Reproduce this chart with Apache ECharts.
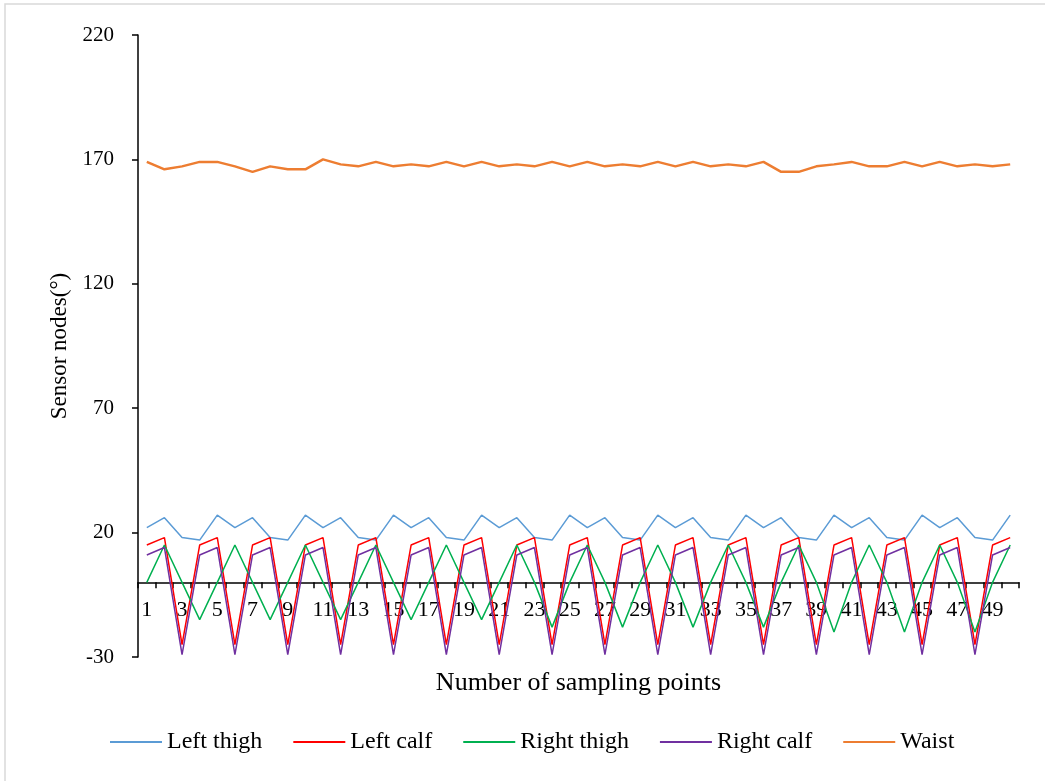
<!DOCTYPE html>
<html>
<head>
<meta charset="utf-8">
<script src="https://cdn.jsdelivr.net/npm/echarts@6/dist/echarts.min.js"></script>
<style>
  html, body { margin: 0; padding: 0; background: #fff; }
  #chart { width: 1045px; height: 781px; }
</style>
</head>
<body>
<div id="chart"></div>
<script>
// sampling points 1..50
var categories = [];
for (var i = 1; i <= 50; i++) categories.push(String(i));

var leftThigh = [22, 26, 18, 17, 27, 22, 26, 18, 17, 27,
                 22, 26, 18, 17, 27, 22, 26, 18, 17, 27,
                 22, 26, 18, 17, 27, 22, 26, 18, 17, 27,
                 22, 26, 18, 17, 27, 22, 26, 18, 17, 27,
                 22, 26, 18, 17, 27, 22, 26, 18, 17, 27];
var leftCalf = [15, 18, -25, 15, 18, -25, 15, 18, -25, 15,
                18, -25, 15, 18, -25, 15, 18, -25, 15, 18,
                -25, 15, 18, -25, 15, 18, -25, 15, 18, -25,
                15, 18, -25, 15, 18, -25, 15, 18, -25, 15,
                18, -25, 15, 18, -25, 15, 18, -25, 15, 18];
var rightThigh = [0, 15, 0, -15, 0, 15, 0, -15, 0, 15,
                  0, -15, 0, 15, 0, -15, 0, 15, 0, -15,
                  0, 15, 0, -18, 0, 15, 0, -18, 0, 15,
                  0, -18, 0, 15, 0, -18, 0, 15, 0, -20,
                  0, 15, 0, -20, 0, 15, 0, -20, 0, 15];
var rightCalf = [11, 14, -29, 11, 14, -29, 11, 14, -29, 11,
                 14, -29, 11, 14, -29, 11, 14, -29, 11, 14,
                 -29, 11, 14, -29, 11, 14, -29, 11, 14, -29,
                 11, 14, -29, 11, 14, -29, 11, 14, -29, 11,
                 14, -29, 11, 14, -29, 11, 14, -29, 11, 14];
var waist = [169, 166, 167.2, 169, 169, 167.2, 165, 167.2, 166, 166,
             170, 168, 167.2, 169, 167.2, 168, 167.2, 169, 167.2, 169,
             167.2, 168, 167.2, 169, 167.2, 169, 167.2, 168, 167.2, 169,
             167.2, 169, 167.2, 168, 167.2, 169, 165, 165, 167.2, 168,
             169, 167.2, 167.2, 169, 167.2, 169, 167.2, 168, 167.2, 168];

var seriesNames = ['Left thigh', 'Left calf', 'Right thigh', 'Right calf', 'Waist'];
var seriesData = [leftThigh, leftCalf, rightThigh, rightCalf, waist];
var seriesColors = ['#5B9BD5', '#FF0000', '#00B050', '#7030A0', '#ED7D31'];
var seriesWidths = [1.5, 1.5, 1.5, 1.5, 2.5];

var yMin = -30, yMax = 220, yStep = 50;
var font = 'Liberation Serif';

var gridTop = 35, gridBottom = 124;
var gridHeight = 781 - gridTop - gridBottom;
// lift the category axis from the grid bottom up to the value 0
var xAxisOffset = -(0 - yMin) / (yMax - yMin) * gridHeight;

var chart = echarts.init(document.getElementById('chart'));

var series = [];
for (var s = 0; s < seriesNames.length; s++) {
    series.push({
        name: seriesNames[s],
        type: 'line',
        data: seriesData[s],
        symbol: 'none',
        smooth: false,
        color: seriesColors[s],
        lineStyle: { color: seriesColors[s], width: seriesWidths[s] },
        animation: false
    });
}

chart.setOption({
    animation: false,
    textStyle: { fontFamily: font, color: '#000' },
    graphic: [{
        type: 'rect',
        shape: { x: 5, y: 4, width: 1200, height: 900 },
        style: { fill: 'none', stroke: '#D9D9D9', lineWidth: 1.5 },
        silent: true
    }],
    grid: { left: 138, right: 26, top: gridTop, bottom: gridBottom },
    legend: {
        bottom: 22,
        left: 105,
        icon: 'rect',
        itemWidth: 52,
        itemHeight: 2,
        itemGap: 31,
        textStyle: { fontFamily: font, fontSize: 24, color: '#000' },
        data: seriesNames
    },
    xAxis: {
        type: 'category',
        data: categories,
        boundaryGap: true,
        offset: xAxisOffset,
        name: 'Number of sampling points',
        nameLocation: 'middle',
        nameGap: 88,
        nameTextStyle: { fontFamily: font, fontSize: 26, color: '#000' },
        axisLine: { onZero: false, lineStyle: { color: '#000', width: 1.5 } },
        axisTick: { show: true, interval: 0, length: 6, lineStyle: { color: '#000', width: 1.5 } },
        axisLabel: { interval: 1, margin: 17, fontFamily: font, fontSize: 22, color: '#000' },
        splitLine: { show: false }
    },
    yAxis: {
        type: 'value',
        min: yMin,
        max: yMax,
        interval: yStep,
        name: 'Sensor nodes(°)',
        nameLocation: 'middle',
        nameGap: 64,
        nameTextStyle: { fontFamily: font, fontSize: 23, color: '#000' },
        axisLine: { show: true, lineStyle: { color: '#000', width: 1.5 } },
        axisTick: { show: true, length: 6, lineStyle: { color: '#000', width: 1.5 } },
        axisLabel: { margin: 24, fontFamily: font, fontSize: 21, color: '#000' },
        splitLine: { show: false }
    },
    series: series
});
</script>
</body>
</html>
